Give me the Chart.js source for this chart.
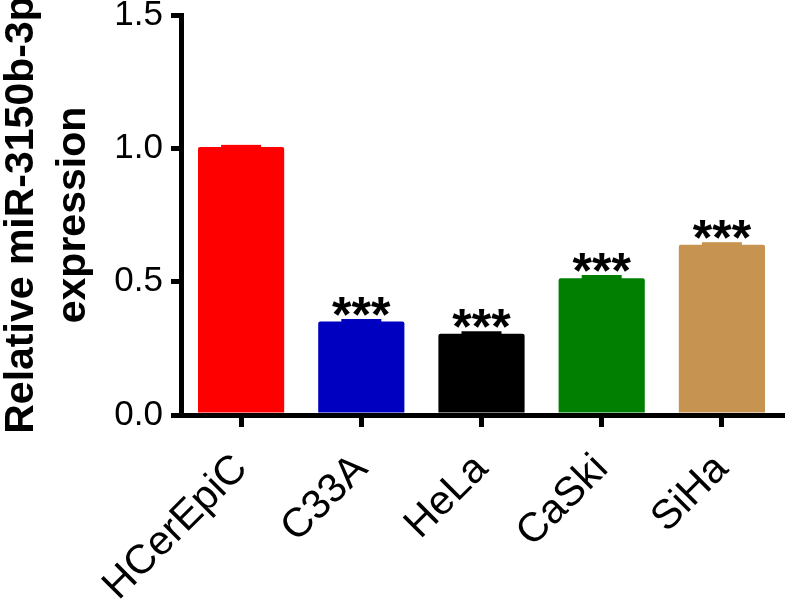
<!DOCTYPE html>
<html><head><meta charset="utf-8">
<script src="https://cdn.jsdelivr.net/npm/chart.js@4/dist/chart.umd.min.js"></script>
<style>html,body{margin:0;padding:0;background:#fff}#wrap{width:789px;height:602px;position:relative}</style>
</head><body><div id="wrap"><canvas id="c" width="789" height="602"></canvas></div>
<script>
const categories = ['HCerEpiC', 'C33A', 'HeLa', 'CaSki', 'SiHa'];
const values = [1.005, 0.351, 0.305, 0.513, 0.638];
const errors = [0.008, 0.009, 0.009, 0.012, 0.010];
const significance = ['', '***', '***', '***', '***'];
const yTicks = [0, 0.5, 1.0, 1.5];
const barColors = ['#FF0000', '#0000C0', '#000000', '#007F00', '#C69350'];
const yTitle = ['Relative miR-3150b-3p', 'expression'];

const FONT = "'Liberation Sans', Arial, sans-serif";

const annotate = {
  id: 'annotate',
  afterDatasetsDraw(chart) {
    const ctx = chart.ctx;
    const meta = chart.getDatasetMeta(0);
    const ys = chart.scales.y;
    ctx.save();
    meta.data.forEach((el, i) => {
      const x = el.x;
      const yTop = ys.getPixelForValue(values[i] + errors[i]);
      const yBase = ys.getPixelForValue(values[i]);
      ctx.fillStyle = barColors[i];
      ctx.fillRect(x - 20, yTop, 40, yBase - yTop + 1);
      if (significance[i]) {
        ctx.font = 'bold 50px ' + FONT;
        ctx.fillStyle = '#000';
        ctx.textAlign = 'center';
        ctx.textBaseline = 'alphabetic';
        const m = ctx.measureText(significance[i]);
        const bottom = yTop - 3;
        ctx.fillText(significance[i], x, bottom - m.actualBoundingBoxDescent);
      }
    });
    ctx.restore();
  }
};

new Chart(document.getElementById('c'), {
  type: 'bar',
  data: {
    labels: categories,
    datasets: [{
      data: values,
      backgroundColor: barColors,
      borderWidth: 0,
      borderRadius: 2,
      borderSkipped: 'bottom',
      categoryPercentage: 1.0,
      barPercentage: 0.717
    }]
  },
  options: {
    responsive: false,
    animation: false,
    devicePixelRatio: 1,
    layout: { padding: { top: 15, right: 7, left: 0, bottom: 0 } },
    plugins: { legend: { display: false }, tooltip: { enabled: false } },
    scales: {
      x: {
        offset: true,
        grid: { display: true, offset: false, drawOnChartArea: false, drawTicks: true, tickLength: 12, tickWidth: 5, tickColor: '#000', color: '#000', lineWidth: 5 },
        border: { display: true, width: 5, color: '#000' },
        ticks: {
          color: '#000', font: { family: FONT, size: 41 },
          maxRotation: 45, minRotation: 45, padding: 18
        },
        afterFit(s) { s.height = 187; s.paddingLeft = 0; s.paddingRight = 0; }
      },
      y: {
        min: 0, max: 1.5,
        grid: { display: true, drawOnChartArea: false, drawTicks: true, tickLength: 10, tickWidth: 5, tickColor: '#000', color: '#000', lineWidth: 5 },
        border: { display: true, width: 5, color: '#000' },
        ticks: {
          color: '#000', font: { family: FONT, size: 35 }, padding: 8,
          callback: v => Number(v).toFixed(1)
        },
        afterBuildTicks(s) { s.ticks = yTicks.map(v => ({ value: v })); },
        title: {
          display: true, text: yTitle, color: '#000',
          font: { family: FONT, size: 41, weight: 'bold', lineHeight: 1.27 },
          padding: { top: -4, bottom: 0 }
        },
        afterFit(s) { s.width = 181; s.paddingTop = 0; s.paddingBottom = 0; }
      }
    }
  },
  plugins: [annotate]
});
</script>
</body></html>
